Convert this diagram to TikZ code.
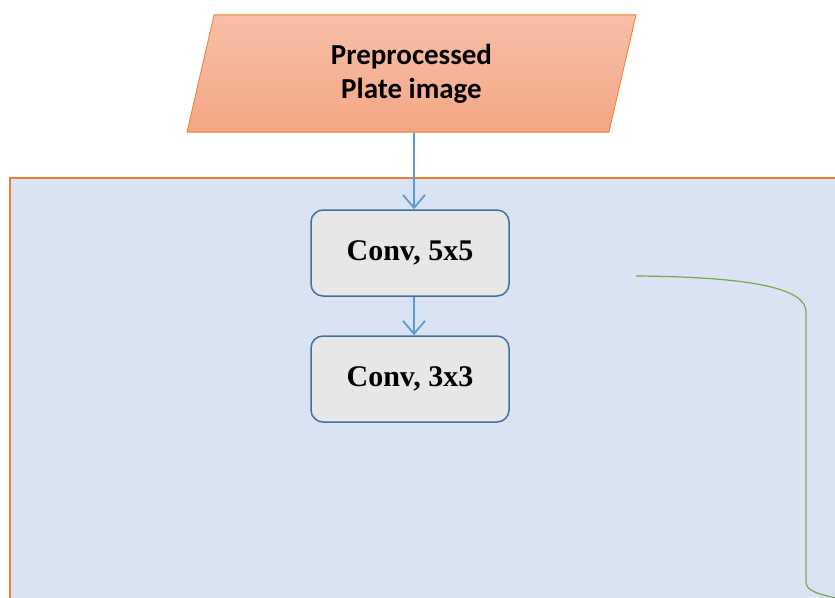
\documentclass[tikz,border=0pt]{standalone}
\usepackage{fontspec}
\setmainfont{Liberation Serif}
\newfontfamily\platefont{Carlito}
\usepackage{tikz}
\usetikzlibrary{positioning,arrows.meta,shapes.geometric}

\definecolor{panelblue}{RGB}{218,227,243}
\definecolor{paneledge}{RGB}{237,125,49}
\definecolor{platetop}{RGB}{247,192,168}
\definecolor{platebot}{RGB}{244,166,132}
\definecolor{convgray}{RGB}{231,231,231}
\definecolor{convedge}{RGB}{65,113,156}
\definecolor{flowblue}{RGB}{91,155,213}
\definecolor{skipgreen}{RGB}{112,173,71}

\begin{document}
\begin{tikzpicture}[x=1pt, y=-1pt, node distance=126pt, on grid,
  conv/.style={draw=convedge, fill=convgray, line width=1.5pt, rounded corners=12pt,
    minimum width=198pt, minimum height=86pt, font=\fontsize{30}{34}\selectfont\bfseries},
  plate/.style={trapezium, trapezium left angle=77, trapezium right angle=103,
    trapezium stretches body, draw=paneledge, line width=0.8pt,
    top color=platetop, bottom color=platebot, minimum width=449pt,
    inner ysep=29pt, align=center, font=\platefont\fontsize{29}{34}\selectfont\bfseries},
  flow/.style={draw=flowblue, line width=1.8pt, -{Straight Barb[length=13pt,width=22pt,line width=1.8pt]}}]

\useasboundingbox (0,0) rectangle (835,597);
\clip (0,0) rectangle (835,597);

% panel
\draw[fill=panelblue, draw=paneledge, line width=2.2pt] (10,178) rectangle (860,640);

\node[conv] (conv5) at (410,253) {Conv, 5x5};
\node[conv] (conv3) [below=of conv5] {Conv, 3x3};
\node[plate] (img) [above=179.5pt of conv5, xshift=1.5pt] {Preprocessed\\Plate image};

\draw[flow] ([xshift=2.5pt]img.south) -- ([xshift=4pt]conv5.north);
\draw[flow] ([xshift=4pt]conv5.south) -- ([xshift=4pt]conv3.north);

% skip line
\draw[skipgreen, line width=1.2pt] (636,276) .. controls (760,277) and (806,290) .. (806,312)
  -- (806,582) .. controls (806,591) and (818,594) .. (840,599);

\end{tikzpicture}
\end{document}
